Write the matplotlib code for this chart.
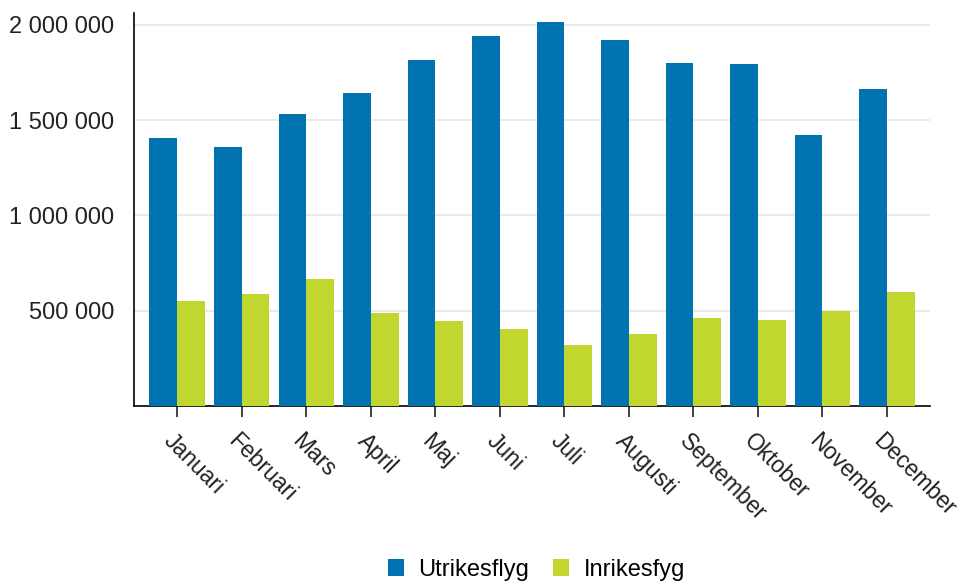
import numpy as np
import matplotlib.pyplot as plt
import matplotlib.transforms as mtransforms
from matplotlib.ticker import FuncFormatter

plt.rcParams["font.family"] = ["Liberation Sans", "DejaVu Sans"]

months = ["Januari", "Februari", "Mars", "April", "Maj", "Juni", "Juli",
          "Augusti", "September", "Oktober", "November", "December"]
utrikes = [1406000, 1359000, 1532000, 1642000, 1815000, 1941000, 2015000,
           1920000, 1800000, 1794000, 1422000, 1663000]
inrikes = [551000, 588000, 666000, 488000, 446000, 404000, 320000,
           378000, 462000, 451000, 498000, 598000]

blue = "#0073b0"
green = "#c1d62f"

fig = plt.figure(figsize=(9.61, 5.84), dpi=100)
ax = fig.add_axes([0.1394, 0.3048, 0.8286, 0.673])

x = np.arange(len(months))
w = 0.43
ax.bar(x - w / 2, utrikes, w, color=blue, label="Utrikesflyg", zorder=3)
ax.bar(x + w / 2, inrikes, w, color=green, label="Inrikesfyg", zorder=3)

ax.set_xlim(-0.67, 11.67)
ax.set_ylim(0, 2063000)
ax.set_yticks([500000, 1000000, 1500000, 2000000])
ax.yaxis.set_major_formatter(FuncFormatter(lambda v, p: f"{int(v):,}".replace(",", " ")))
ax.grid(axis="y", color="#e6e6e6", linewidth=1.2, zorder=0)
ax.tick_params(axis="y", length=0, labelsize=17, pad=14, colors="#222222")
ax.tick_params(axis="x", length=8, width=1.2, labelsize=16.5, pad=9, colors="#222222")

ax.set_xticks(x)
ax.set_xticklabels(months, rotation=-45, ha="left", va="top", rotation_mode="anchor")
shift = mtransforms.ScaledTranslation(-2 / 100, 0, fig.dpi_scale_trans)
for lbl in ax.get_xticklabels():
    lbl.set_transform(lbl.get_transform() + shift)

for s in ["top", "right"]:
    ax.spines[s].set_visible(False)
ax.spines["left"].set_linewidth(1.2)
ax.spines["bottom"].set_linewidth(1.2)

fig.legend(loc="lower center", bbox_to_anchor=(0.558, -0.031), ncol=2, frameon=False,
           fontsize=17, handlelength=0.7, handleheight=0.7, handletextpad=0.6,
           columnspacing=1.0)

fig.savefig("out.png", dpi=100)
